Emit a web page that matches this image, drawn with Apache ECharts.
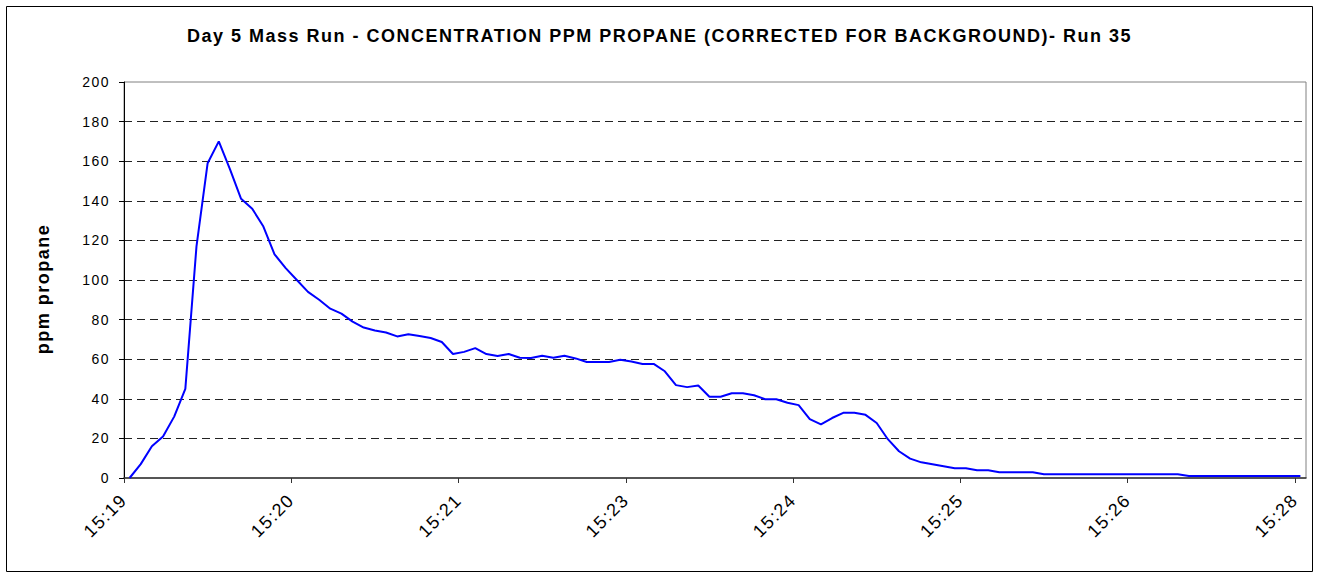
<!DOCTYPE html>
<html>
<head>
<meta charset="utf-8">
<script src="https://cdn.jsdelivr.net/npm/echarts@6/dist/echarts.min.js"></script>
<style>
  html, body { margin: 0; padding: 0; background: #fff; }
  #chart { width: 1319px; height: 579px; }
  /* loose, spreadsheet-style character spacing for all chart text */
  #chart svg text { letter-spacing: 1.5px; }
</style>
</head>
<body>
<div id="chart"></div>
<script>
// Time labels shown every 15 samples along the horizontal axis
const timeLabels = ['15:19', '15:20', '15:21', '15:23', '15:24', '15:25', '15:26', '15:28'];
const samplesPerLabel = 15;

// Propane concentration (ppm), background corrected, one value per sample
const ppmPropane = [
  0, 7, 16, 21, 31, 45, 117, 159, 170, 156,
  141, 136, 127, 113, 106, 100, 94, 90, 85.5, 83,
  79, 76, 74.5, 73.5, 71.5, 72.6, 71.7, 70.7, 68.7, 62.6,
  63.7, 65.6, 62.6, 61.6, 62.6, 60.7, 60.6, 61.7, 60.7, 61.7,
  60.4, 58.6, 58.6, 58.6, 59.7, 58.8, 57.6, 57.6, 53.9, 46.9,
  45.9, 46.7, 41, 41, 42.8, 42.8, 41.8, 39.8, 39.8, 38,
  36.8, 29.7, 27.1, 30.3, 32.9, 32.9, 31.9, 27.8, 19.6, 13.5,
  9.8, 7.9, 6.9, 5.9, 4.9, 4.9, 3.9, 3.9, 2.9, 2.9,
  2.9, 2.9, 1.9, 1.9, 1.9, 1.9, 1.9, 1.9, 1.9, 1.9,
  1.9, 1.9, 1.9, 1.9, 1.9, 1, 1, 1, 1, 1,
  1, 1, 1, 1, 1, 1
];

const tickPositions = timeLabels.map((_, k) => k * samplesPerLabel);
const font = "'Liberation Sans', Arial, sans-serif";

const chart = echarts.init(document.getElementById('chart'), null, { renderer: 'svg' });

chart.setOption({
  backgroundColor: '#ffffff',
  animation: false,
  title: {
    text: 'Day 5 Mass Run - CONCENTRATION PPM PROPANE (CORRECTED FOR BACKGROUND)- Run 35',
    left: 'center',
    top: 22,
    textStyle: { fontFamily: font, fontSize: 18, fontWeight: 'bold', color: '#000' }
  },
  graphic: [{
    type: 'rect',
    shape: { x: 6.5, y: 6.5, width: 1306, height: 565 },
    style: { fill: 'none', stroke: '#000', lineWidth: 1 },
    z: -1
  }],
  grid: {
    left: 124, right: 13, top: 82, bottom: 101,
    show: true, borderColor: '#808080', borderWidth: 1, backgroundColor: 'transparent'
  },
  xAxis: {
    type: 'value',
    min: 0,
    max: ppmPropane.length,
    axisLine: { show: true, lineStyle: { color: '#333', width: 1.5 } },
    axisTick: { show: true, length: 5, customValues: tickPositions, lineStyle: { color: '#333' } },
    axisLabel: {
      customValues: tickPositions,
      rotate: 45,
      margin: 19,
      fontFamily: font,
      fontSize: 18,
      color: '#000',
      formatter: v => timeLabels[Math.round(v / samplesPerLabel)]
    },
    splitLine: { show: false }
  },
  yAxis: {
    type: 'value',
    min: 0,
    max: 200,
    interval: 20,
    name: '{n|ppm propane}',
    nameLocation: 'middle',
    nameGap: 72,
    nameTextStyle: {
      fontFamily: font, fontSize: 18, fontWeight: 'bold', color: '#000',
      rich: {
        n: { fontFamily: font, fontSize: 18, fontWeight: 'bold', color: '#000', padding: [0, 18, 0, 0] }
      }
    },
    axisLine: { show: true, lineStyle: { color: '#000', width: 1 } },
    axisTick: { show: true, length: 5, lineStyle: { color: '#000' } },
    axisLabel: { margin: 14, fontFamily: font, fontSize: 14, color: '#000' },
    splitLine: {
      show: true,
      showMinLine: false,
      showMaxLine: false,
      lineStyle: { color: '#222', type: [8, 5], width: 1 }
    }
  },
  series: [{
    type: 'line',
    data: ppmPropane.map((v, i) => [i + 0.5, v]),
    showSymbol: false,
    symbol: 'none',
    lineStyle: { color: '#0000ff', width: 2 },
    itemStyle: { color: '#0000ff' }
  }]
});
</script>
</body>
</html>
